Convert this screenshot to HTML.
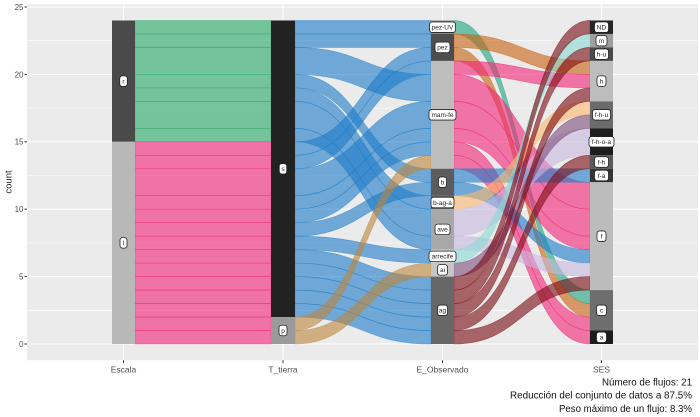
<!DOCTYPE html>
<html><head><meta charset="utf-8">
<style>
html,body{margin:0;padding:0;background:#fff}
svg{display:block}
.f path,.f rect{vector-effect:non-scaling-stroke}
.g{fill:#25a866;stroke:#25a866}
.k{fill:#f12376;stroke:#f12376}
.b{fill:#1c7bc8;stroke:#1c7bc8}
.t{fill:#bc853c;stroke:#bc853c}
.tl{fill:#1aa37e;stroke:#1aa37e}
.o{fill:#c9600f;stroke:#c9600f}
.pe{fill:#fcb96e;stroke:#fcb96e}
.lv{fill:#c8b7df;stroke:#c8b7df}
.mi{fill:#89dad2;stroke:#89dad2}
.mv{fill:#7b4d7b;stroke:#7b4d7b}
.br{fill:#7a0a10;stroke:#7a0a10}
.lb rect{fill:#fff;stroke:#222;stroke-width:0.8}
.lb text{font-size:6.5px;fill:#222;text-anchor:middle}
</style></head>
<body>
<svg width="700" height="417" viewBox="0 0 700 417" xmlns="http://www.w3.org/2000/svg" font-family="'Liberation Sans', sans-serif">
<rect width="700" height="417" fill="#fff"/>
<rect x="27" y="4.3" width="671" height="356" fill="#ebebeb"/>
<g stroke="#fff" stroke-width="0.55">
<line x1="27" x2="698" y1="310.3" y2="310.3"/><line x1="27" x2="698" y1="242.9" y2="242.9"/><line x1="27" x2="698" y1="175.5" y2="175.5"/><line x1="27" x2="698" y1="108.1" y2="108.1"/><line x1="27" x2="698" y1="40.7" y2="40.7"/>
</g>
<g stroke="#fff" stroke-width="1.1">
<line x1="27" x2="698" y1="344" y2="344"/><line x1="27" x2="698" y1="276.6" y2="276.6"/><line x1="27" x2="698" y1="209.2" y2="209.2"/><line x1="27" x2="698" y1="141.8" y2="141.8"/><line x1="27" x2="698" y1="74.4" y2="74.4"/><line x1="27" x2="698" y1="7" y2="7"/>
<line x1="123.5" x2="123.5" y1="4.3" y2="360.3"/><line x1="283" x2="283" y1="4.3" y2="360.3"/><line x1="442.5" x2="442.5" y1="4.3" y2="360.3"/><line x1="601.5" x2="601.5" y1="4.3" y2="360.3"/>
</g>

<g class="f" transform="matrix(1 0 0 -13.48 0 344)" fill-opacity="0.6" stroke-opacity="0.55" stroke-width="0.6">
<rect class="g" x="135" y="23" width="136" height="1"/>
<rect class="g" x="135" y="22" width="136" height="1"/>
<rect class="g" x="135" y="20" width="136" height="2"/>
<rect class="g" x="135" y="19" width="136" height="1"/>
<rect class="g" x="135" y="18" width="136" height="1"/>
<rect class="g" x="135" y="16" width="136" height="2"/>
<rect class="g" x="135" y="15" width="136" height="1"/>
<rect class="k" x="135" y="14" width="136" height="1"/>
<rect class="k" x="135" y="13" width="136" height="1"/>
<rect class="k" x="135" y="11" width="136" height="2"/>
<rect class="k" x="135" y="10" width="136" height="1"/>
<rect class="k" x="135" y="9" width="136" height="1"/>
<rect class="k" x="135" y="8" width="136" height="1"/>
<rect class="k" x="135" y="7" width="136" height="1"/>
<rect class="k" x="135" y="6" width="136" height="1"/>
<rect class="k" x="135" y="5" width="136" height="1"/>
<rect class="k" x="135" y="4" width="136" height="1"/>
<rect class="k" x="135" y="3" width="136" height="1"/>
<rect class="k" x="135" y="2" width="136" height="1"/>
<rect class="k" x="135" y="1" width="136" height="1"/>
<rect class="k" x="135" y="0" width="136" height="1"/>
<path class="b" d="M295 24 C363 24 363 24 431 24 L431 23 C363 23 363 23 295 23Z"/>
<path class="b" d="M295 23 C363 23 363 23 431 23 L431 22 C363 22 363 22 295 22Z"/>
<path class="b" d="M295 22 C363 22 363 20 431 20 L431 18 C363 18 363 20 295 20Z"/>
<path class="b" d="M295 20 C363 20 363 13 431 13 L431 12 C363 12 363 19 295 19Z"/>
<path class="b" d="M295 19 C363 19 363 11 431 11 L431 10 C363 10 363 18 295 18Z"/>
<path class="b" d="M295 18 C363 18 363 10 431 10 L431 8 C363 8 363 16 295 16Z"/>
<path class="b" d="M295 16 C363 16 363 8 431 8 L431 7 C363 7 363 15 295 15Z"/>
<path class="b" d="M295 15 C363 15 363 22 431 22 L431 21 C363 21 363 14 295 14Z"/>
<path class="b" d="M295 14 C363 14 363 21 431 21 L431 20 C363 20 363 13 295 13Z"/>
<path class="b" d="M295 13 C363 13 363 18 431 18 L431 16 C363 16 363 11 295 11Z"/>
<path class="b" d="M295 11 C363 11 363 16 431 16 L431 15 C363 15 363 10 295 10Z"/>
<path class="b" d="M295 10 C363 10 363 15 431 15 L431 14 C363 14 363 9 295 9Z"/>
<path class="b" d="M295 9 C363 9 363 12 431 12 L431 11 C363 11 363 8 295 8Z"/>
<path class="b" d="M295 8 C363 8 363 7 431 7 L431 6 C363 6 363 7 295 7Z"/>
<path class="b" d="M295 7 C363 7 363 5 431 5 L431 4 C363 4 363 6 295 6Z"/>
<path class="b" d="M295 6 C363 6 363 4 431 4 L431 3 C363 3 363 5 295 5Z"/>
<path class="b" d="M295 5 C363 5 363 3 431 3 L431 2 C363 2 363 4 295 4Z"/>
<path class="b" d="M295 4 C363 4 363 2 431 2 L431 1 C363 1 363 3 295 3Z"/>
<path class="b" d="M295 3 C363 3 363 1 431 1 L431 0 C363 0 363 2 295 2Z"/>
<path class="t" d="M295 2 C363 2 363 14 431 14 L431 13 C363 13 363 1 295 1Z"/>
<path class="t" d="M295 1 C363 1 363 6 431 6 L431 5 C363 5 363 0 295 0Z"/>
<path class="tl" d="M454 24 C522 24 522 4 590 4 L590 3 C522 3 522 23 454 23Z"/>
<path class="o" d="M454 23 C522 23 522 21 590 21 L590 20 C522 20 522 22 454 22Z"/>
<path class="o" d="M454 22 C522 22 522 3 590 3 L590 2 C522 2 522 21 454 21Z"/>
<path class="k" d="M454 21 C522 21 522 20 590 20 L590 19 C522 19 522 20 454 20Z"/>
<path class="k" d="M454 20 C522 20 522 12 590 12 L590 10 C522 10 522 18 454 18Z"/>
<path class="k" d="M454 18 C522 18 522 10 590 10 L590 8 C522 8 522 16 454 16Z"/>
<path class="k" d="M454 16 C522 16 522 8 590 8 L590 7 C522 7 522 15 454 15Z"/>
<path class="k" d="M454 15 C522 15 522 2 590 2 L590 1 C522 1 522 14 454 14Z"/>
<path class="k" d="M454 14 C522 14 522 1 590 1 L590 0 C522 0 522 13 454 13Z"/>
<path class="b" d="M454 13 C522 13 522 13 590 13 L590 12 C522 12 522 12 454 12Z"/>
<path class="b" d="M454 12 C522 12 522 7 590 7 L590 6 C522 6 522 11 454 11Z"/>
<path class="pe" d="M454 11 C522 11 522 18 590 18 L590 17 C522 17 522 10 454 10Z"/>
<path class="lv" d="M454 10 C522 10 522 16 590 16 L590 14 C522 14 522 8 454 8Z"/>
<path class="lv" d="M454 8 C522 8 522 6 590 6 L590 5 C522 5 522 7 454 7Z"/>
<path class="mi" d="M454 7 C522 7 522 23 590 23 L590 22 C522 22 522 6 454 6Z"/>
<path class="mv" d="M454 6 C522 6 522 17 590 17 L590 16 C522 16 522 5 454 5Z"/>
<path class="br" d="M454 5 C522 5 522 24 590 24 L590 23 C522 23 522 4 454 4Z"/>
<path class="br" d="M454 4 C522 4 522 22 590 22 L590 21 C522 21 522 3 454 3Z"/>
<path class="br" d="M454 3 C522 3 522 19 590 19 L590 18 C522 18 522 2 454 2Z"/>
<path class="br" d="M454 2 C522 2 522 14 590 14 L590 13 C522 13 522 1 454 1Z"/>
<path class="br" d="M454 1 C522 1 522 5 590 5 L590 4 C522 4 522 0 454 0Z"/>
</g>

<g transform="matrix(1 0 0 -13.48 0 344)">
<rect x="112" y="15" width="23" height="9" fill="#4a4a4a"/>
<rect x="112" y="0" width="23" height="15" fill="#b8b8b8"/>
<rect x="271" y="2" width="24" height="22" fill="#222"/>
<rect x="271" y="0" width="24" height="2" fill="#9a9a9a"/>
<rect x="431" y="23" width="23" height="1" fill="#8a8a8a"/>
<rect x="431" y="21" width="23" height="2" fill="#4d4d4d"/>
<rect x="431" y="13" width="23" height="8" fill="#bdbdbd"/>
<rect x="431" y="11" width="23" height="2" fill="#5c5c5c"/>
<rect x="431" y="10" width="23" height="1" fill="#5a5a5a"/>
<rect x="431" y="7" width="23" height="3" fill="#a8a8a8"/>
<rect x="431" y="6" width="23" height="1" fill="#c6c6c6"/>
<rect x="431" y="5" width="23" height="1" fill="#c6c6c6"/>
<rect x="431" y="0" width="23" height="5" fill="#676767"/>
<rect x="590" y="23" width="23" height="1" fill="#262626"/>
<rect x="590" y="22" width="23" height="1" fill="#9e9e9e"/>
<rect x="590" y="21" width="23" height="1" fill="#4a4a4a"/>
<rect x="590" y="18" width="23" height="3" fill="#bdbdbd"/>
<rect x="590" y="16" width="23" height="2" fill="#6b6b6b"/>
<rect x="590" y="14" width="23" height="2" fill="#1e1e1e"/>
<rect x="590" y="13" width="23" height="1" fill="#595959"/>
<rect x="590" y="12" width="23" height="1" fill="#333"/>
<rect x="590" y="4" width="23" height="8" fill="#bcbcbc"/>
<rect x="590" y="1" width="23" height="3" fill="#6e6e6e"/>
<rect x="590" y="0" width="23" height="1" fill="#1c1c1c"/>
</g>

<g class="lb">
<rect x="119.75" y="75.85" width="7.5" height="10.5" rx="2.5"/><text x="123.5" y="83.4">r</text>
<rect x="120" y="237.65" width="7" height="10.5" rx="2.5"/><text x="123.5" y="245.2">l</text>
<rect x="279.25" y="163.55" width="7.5" height="10.5" rx="2.5"/><text x="283" y="171.1">s</text>
<rect x="279" y="325.25" width="8" height="10.5" rx="2.5"/><text x="283" y="332.8">p</text>

<rect x="429.5" y="21.95" width="26" height="10.5" rx="2.5"/><text x="442.5" y="29.5">pez-UV</text>
<rect x="435" y="42.15" width="15" height="10.5" rx="2.5"/><text x="442.5" y="49.7">pez</text>
<rect x="429" y="109.55" width="27" height="10.5" rx="2.5"/><text x="442.5" y="117.1">mam-fe</text>
<rect x="438.5" y="176.95" width="8" height="10.5" rx="2.5"/><text x="442.5" y="184.5">b</text>
<rect x="431" y="197.25" width="23" height="10.5" rx="2.5"/><text x="442.5" y="204.8">b-ag-a</text>
<rect x="435" y="224.15" width="15" height="10.5" rx="2.5"/><text x="442.5" y="231.7">ave</text>
<rect x="429" y="251.15" width="27" height="10.5" rx="2.5"/><text x="442.5" y="258.7">arrecife</text>
<rect x="437.5" y="264.65" width="10" height="10.5" rx="2.5"/><text x="442.5" y="272.2">ai</text>
<rect x="437.5" y="305.05" width="10" height="10.5" rx="2.5"/><text x="442.5" y="312.6">ag</text>

<rect x="594.5" y="21.95" width="14" height="10.5" rx="2.5"/><text x="601.5" y="29.5">ND</text>
<rect x="596" y="35.45" width="11" height="10.5" rx="2.5"/><text x="601.5" y="43">m</text>
<rect x="594.5" y="48.95" width="14" height="10.5" rx="2.5"/><text x="601.5" y="56.5">h-u</text>
<rect x="597" y="75.85" width="9" height="10.5" rx="2.5"/><text x="601.5" y="83.4">h</text>
<rect x="592.5" y="109.55" width="18" height="10.5" rx="2.5"/><text x="601.5" y="117.1">f-h-u</text>
<rect x="589" y="136.55" width="25" height="10.5" rx="2.5"/><text x="601.5" y="144.1">f-h-o-a</text>
<rect x="594.5" y="156.75" width="14" height="10.5" rx="2.5"/><text x="601.5" y="164.3">f-h</text>
<rect x="594.5" y="170.25" width="14" height="10.5" rx="2.5"/><text x="601.5" y="177.8">f-a</text>
<rect x="597" y="230.95" width="9" height="10.5" rx="2.5"/><text x="601.5" y="238.5">f</text>
<rect x="596.5" y="305.05" width="10" height="10.5" rx="2.5"/><text x="601.5" y="312.6">c</text>
<rect x="596.5" y="332.05" width="10" height="10.5" rx="2.5"/><text x="601.5" y="339.6">a</text>
</g>

<g stroke="#333" stroke-width="1">
<line x1="24.5" x2="27" y1="344" y2="344"/><line x1="24.5" x2="27" y1="276.6" y2="276.6"/><line x1="24.5" x2="27" y1="209.2" y2="209.2"/><line x1="24.5" x2="27" y1="141.8" y2="141.8"/><line x1="24.5" x2="27" y1="74.4" y2="74.4"/><line x1="24.5" x2="27" y1="7" y2="7"/>
<line x1="123.5" x2="123.5" y1="360.3" y2="363"/><line x1="283" x2="283" y1="360.3" y2="363"/><line x1="442.5" x2="442.5" y1="360.3" y2="363"/><line x1="601.5" x2="601.5" y1="360.3" y2="363"/>
</g>
<g fill="#4d4d4d" font-size="8" text-anchor="end">
<text x="23.5" y="346.9">0</text><text x="23.5" y="279.5">5</text><text x="23.5" y="212.1">10</text><text x="23.5" y="144.7">15</text><text x="23.5" y="77.3">20</text><text x="23.5" y="9.9">25</text>
</g>
<g fill="#4d4d4d" font-size="8.5" text-anchor="middle">
<text x="123.5" y="372.3">Escala</text><text x="283" y="372.3">T_tierra</text><text x="442.5" y="372.3">E_Observado</text><text x="601.5" y="372.3">SES</text>
</g>
<text x="11.5" y="182" font-size="9.5" fill="#222" text-anchor="middle" transform="rotate(-90 11.5 182)">count</text>

<g fill="#111" font-size="10" text-anchor="end">
<text x="692" y="385.5" textLength="90" lengthAdjust="spacingAndGlyphs">Número de flujos: 21</text>
<text x="692" y="398.7" textLength="182" lengthAdjust="spacingAndGlyphs">Reducción del conjunto de datos a 87.5%</text>
<text x="692" y="411.9" textLength="133" lengthAdjust="spacingAndGlyphs">Peso máximo de un flujo: 8.3%</text>
</g>
</svg>
</body></html>
